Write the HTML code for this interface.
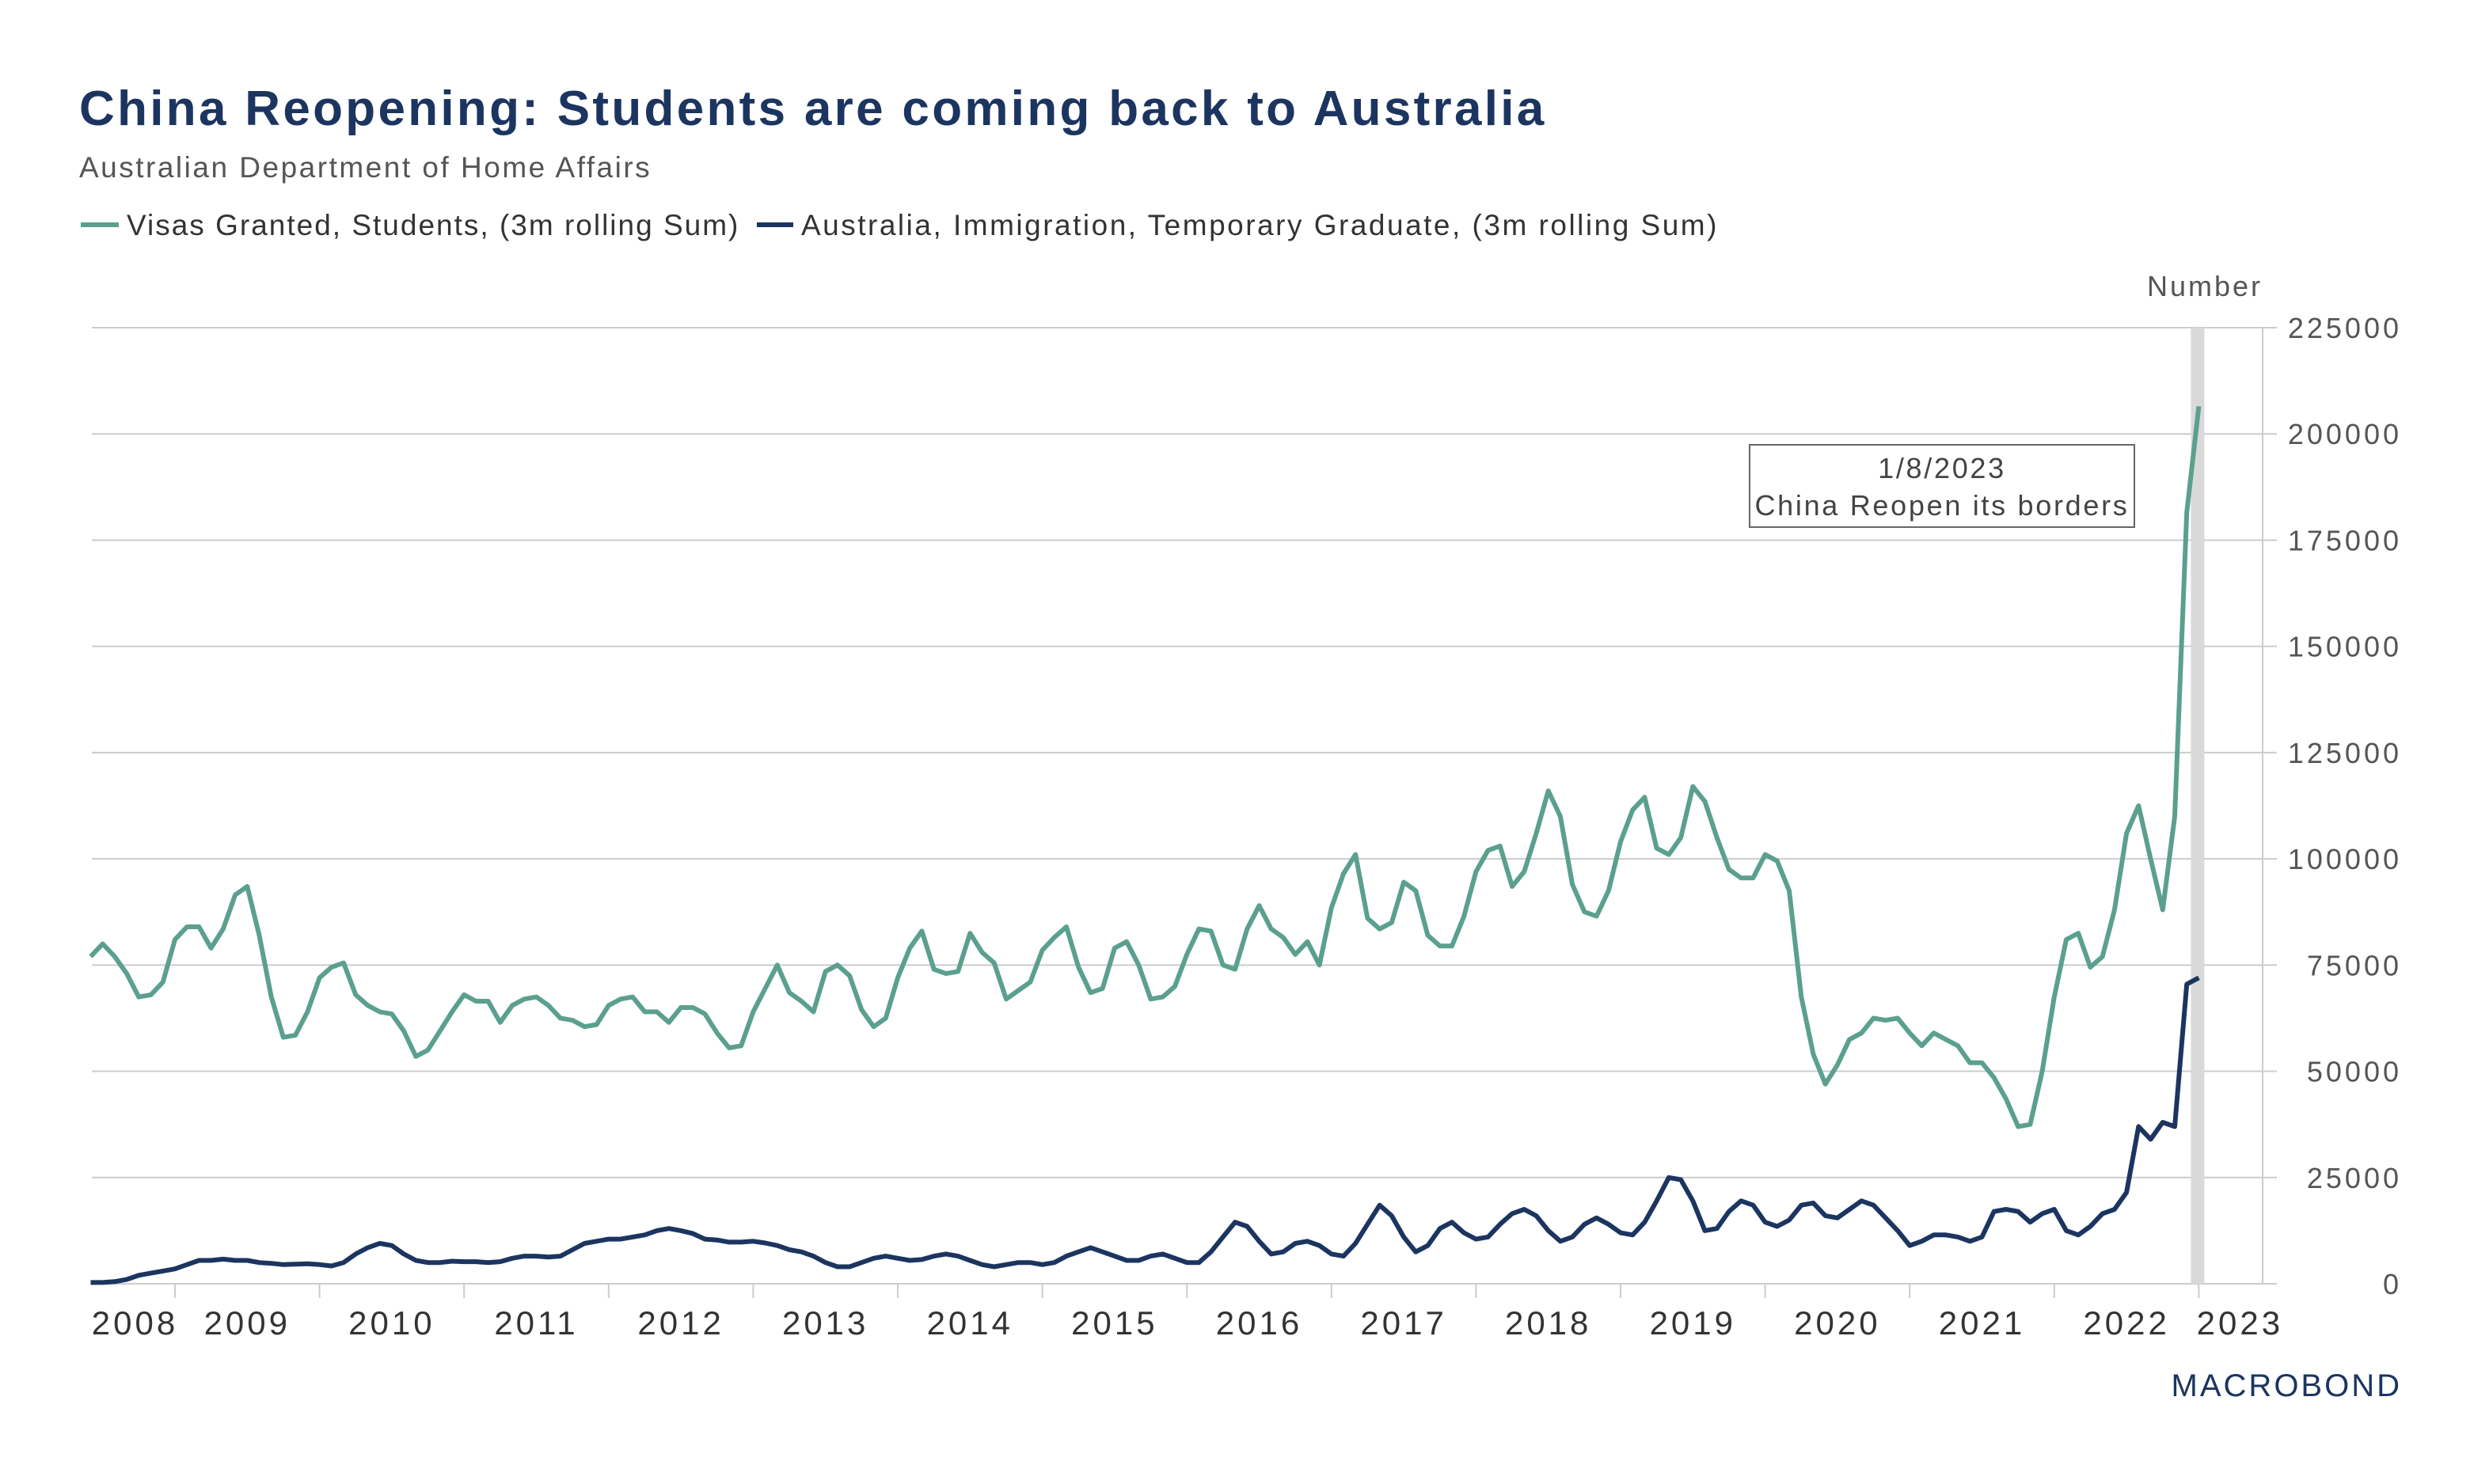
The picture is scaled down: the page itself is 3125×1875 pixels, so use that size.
<!DOCTYPE html>
<html><head><meta charset="utf-8"><style>
body{margin:0;background:#fff;}
svg{display:block;font-family:"Liberation Sans",sans-serif;}
</style></head><body>
<svg id="chart" width="3125" height="1875" viewBox="0 0 3125 1875">
<rect width="3125" height="1875" fill="#fff"/>
<text x="100" y="158" font-size="62" font-weight="bold" fill="#1c3560" letter-spacing="3.3">China Reopening: Students are coming back to Australia</text>
<text x="100" y="224" font-size="37" fill="#555" letter-spacing="2.5">Australian Department of Home Affairs</text>
<g>
<line x1="102" y1="284" x2="150" y2="284" stroke="#5ba08f" stroke-width="6"/>
<text x="160" y="297" font-size="37" fill="#333" letter-spacing="2">Visas Granted, Students, (3m rolling Sum)</text>
<line x1="956" y1="284" x2="1002" y2="284" stroke="#1c3560" stroke-width="6"/>
<text x="1012" y="297" font-size="37" fill="#333" letter-spacing="2.5">Australia, Immigration, Temporary Graduate, (3m rolling Sum)</text>
</g>
<text x="2858" y="374" font-size="36" fill="#555" text-anchor="end" letter-spacing="3">Number</text>
<g id="grid"></g>
<rect id="band" fill="#d9d9d9"/>
<g id="series"></g>
<g id="xaxis"></g>
<g>
<rect x="2210" y="562" width="486" height="104" fill="#fff" stroke="#666" stroke-width="2"/>
<text x="2453" y="604" font-size="36" fill="#444" text-anchor="middle" letter-spacing="2.7">1/8/2023</text>
<text x="2453" y="651" font-size="36" fill="#444" text-anchor="middle" letter-spacing="2.7">China Reopen its borders</text>
</g>
<text x="3034" y="1764" font-size="40" fill="#1c3560" text-anchor="end" letter-spacing="3">MACROBOND</text>
</svg>
<script>
const students=[77,80,77,73,67.5,68,71,81,84,84,79,83.5,91.5,93.5,82,67.5,58,58.5,64,72,74.5,75.5,68,65.5,64,63.5,59.5,53.5,55,59.5,64,68,66.5,66.5,61.5,65.5,67,67.5,65.5,62.5,62,60.5,61,65.5,67,67.5,64,64,61.5,65,65,63.5,59,55.5,56,64,69.5,75,68.5,66.5,64,73.5,75,72.5,64.5,60.5,62.5,72,79,83,74,73,73.5,82.5,78,75.5,67,69,71,78.5,81.5,84,74.5,68.5,69.5,79,80.5,75,67,67.5,70,77.5,83.5,83,75,74,83.5,89,83.5,81.5,77.5,80.5,75,88.5,96.5,101,86,83.5,85,94.5,92.5,82,79.5,79.5,86.5,97,102,103,93.5,97,106,116,110,94,87.5,86.5,92.5,104,111.5,114.5,102.5,101,105,117,113.5,105,97.5,95.5,95.5,101,99.5,92.5,67.5,54,47,51.5,57.5,59,62.5,62,62.5,59,56,59,57.5,56,52,52,48.5,43.5,37,37.5,50,67.5,81,82.5,74.5,77,88,106,112.5,100,88,110,181.5,206.5];
const graduates=[0.3,0.3,0.5,1,2,2.5,3,3.5,4.5,5.5,5.5,5.8,5.5,5.5,5,4.8,4.5,4.6,4.7,4.5,4.2,5,7,8.5,9.5,9,7,5.5,5,5,5.3,5.2,5.2,5,5.2,6,6.5,6.5,6.3,6.5,8,9.5,10,10.5,10.5,11,11.5,12.5,13,12.5,11.8,10.5,10.3,9.8,9.8,10,9.6,9,8,7.5,6.5,5,4,4,5,6,6.5,6,5.5,5.7,6.5,7,6.5,5.5,4.5,4,4.5,5,5,4.5,5,6.5,7.5,8.5,7.5,6.5,5.5,5.5,6.5,7,6,5,5,7.5,11,14.5,13.5,10,7,7.5,9.5,10,9,7,6.5,9.5,14,18.5,16,11,7.5,9,13,14.5,12,10.5,11,14,16.5,17.5,16,12.5,10,11,14,15.5,14,12,11.5,14.5,19.5,25,24.5,19.5,12.5,13,17,19.5,18.5,14.5,13.5,15,18.5,19,16,15.5,17.5,19.5,18.5,15.5,12.5,9,10,11.5,11.5,11,10,11,17,17.5,17,14.5,16.5,17.5,12.5,11.5,13.5,16.5,17.5,21.5,37,34,38,37,70.5,72];
const yTicks=[0,25000,50000,75000,100000,125000,150000,175000,200000,225000];
const years=[2008,2009,2010,2011,2012,2013,2014,2015,2016,2017,2018,2019,2020,2021,2022,2023];
const startMonth=-7; // months relative to Jan 2009 (Jun 2008)
const reopenMonth=168; // Jan 2023 relative to Jan 2009

const NS="http://www.w3.org/2000/svg";
const X0=221, PXY=182.6, L=116, R=2858, Y0=1622, YT=414;
function xm(m){return X0+m*PXY/12;}
function yv(v){return Y0-(v/225000)*(Y0-YT);}
function mk(tag,at,parent){const e=document.createElementNS(NS,tag);for(const k in at)e.setAttribute(k,at[k]);parent.appendChild(e);return e;}

const grid=document.getElementById('grid');
yTicks.forEach(t=>{
  const g=mk('line',{x1:L,x2:R,y1:yv(t),y2:yv(t),stroke:'#cccccc','stroke-width':2},grid);
  
  
  mk('line',{x1:R,x2:R+18,y1:yv(t),y2:yv(t),stroke:'#cccccc','stroke-width':2},grid);
  const tx=mk('text',{x:3034,y:yv(t)+13,'font-size':36,fill:'#555','text-anchor':'end','letter-spacing':4},grid);
  tx.textContent=t;
  
  
});
const ax=mk('line',{x1:R,x2:R,y1:YT,y2:Y0,stroke:'#cccccc','stroke-width':2},grid);



const band=document.getElementById('band');
band.setAttribute('x',xm(reopenMonth)-10);band.setAttribute('width',17);
band.setAttribute('y',YT);band.setAttribute('height',Y0-YT);

const xa=document.getElementById('xaxis');
years.forEach((yr,i)=>{
  const m=(yr-2009)*12;
  if(yr>=2009){mk('line',{x1:xm(m),x2:xm(m),y1:Y0,y2:Y0+18,stroke:'#cccccc','stroke-width':2},xa);}
  let cx;
  if(yr===2008) cx=(L+X0)/2+2;
  else if(yr===2023) cx=xm(m)+52;
  else cx=xm(m+6);
  const t=mk('text',{x:cx,y:1686,'font-size':42,fill:'#333','text-anchor':'middle','letter-spacing':4},xa);
  t.textContent=yr;
  
  
});

const sg=document.getElementById('series');
function line(arr,col,name){
  const d=arr.map((v,i)=>(i?'L':'M')+xm(startMonth+i).toFixed(1)+' '+yv(v*1000).toFixed(1)).join(' ');
  const p=mk('path',{d:d,fill:'none',stroke:col,'stroke-width':6,'stroke-linejoin':'round'},sg);
  
  
}
line(students,'#5ba08f','students-line');
line(graduates,'#1c3560','graduate-line');
</script>
</body></html>
